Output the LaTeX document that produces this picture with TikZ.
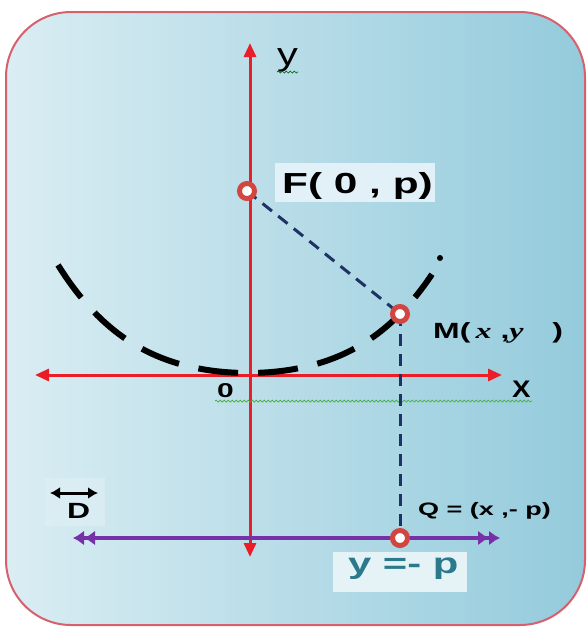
\documentclass[tikz,border=0pt]{standalone}
\usepackage{graphicx}
\usepackage{fontspec}
\setmainfont{Liberation Sans}
\newfontfamily\serifface{Liberation Serif}
\usetikzlibrary{arrows.meta,decorations.pathmorphing}
\newcommand{\stretchx}[2][1.45]{\scalebox{#1}[1]{#2}}
\definecolor{bgL}{RGB}{218,237,243}
\definecolor{bgR}{RGB}{148,203,220}
\definecolor{frame}{RGB}{214,96,110}
\definecolor{axisred}{RGB}{235,30,40}
\definecolor{ringred}{RGB}{210,70,65}
\definecolor{navy}{RGB}{30,50,100}
\definecolor{purp}{RGB}{118,48,168}
\definecolor{teal2}{RGB}{42,122,140}
\definecolor{wavy}{RGB}{70,170,70}
\definecolor{boxF}{RGB}{226,241,248}
\tikzset{
  axis/.style={draw=axisred, line width=3pt, -{Triangle[length=14pt,width=12pt]}},
  ring/.style={circle, draw=ringred, line width=5pt, fill=white, minimum size=15pt, inner sep=0pt},
  guide/.style={draw=navy, line width=3pt, dash pattern=on 12pt off 8pt},
  lbl/.style={font=\bfseries, text=black, inner sep=0pt},
  squig/.style={line width=0.7pt, decorate, decoration={snake, amplitude=1pt, segment length=4pt}},
  dtip/.tip={Latex[length=11pt,width=15pt]},
}
\begin{document}
\begin{tikzpicture}[x=1pt,y=-1pt]
\useasboundingbox (0,0) rectangle (587,633);
% panel
\shade[left color=bgL, right color=bgR, rounded corners=65pt, draw=frame, line width=2pt]
  (6,12) rectangle (585,625);
% label backgrounds
\fill[boxF] (275,163) rectangle (435,202);
\fill[white!30!bgL] (333,552) rectangle (467,592);
\fill[white!15!bgL, opacity=0.6] (45,478) rectangle (105,526);
% axes
\coordinate (O) at (250,375);
\coordinate (ytop) at (250,43);
\coordinate (ybot) at (250,557);
\coordinate (xl) at (35,375);
\coordinate (xr) at (502,375);
\draw[axis] (O) -- (ytop);
\draw[axis] (O) -- (ybot);
\draw[axis] (O) -- (xl);
\draw[axis] (O) -- (xr);
\node[anchor=base west, inner sep=0pt, font=\fontsize{32}{32}\selectfont] (ylab) at (277,65) {\stretchx[1.3]{y}};
\draw[black!60!green, squig] (277,72) -- (298,72);
\node[anchor=base west, inner sep=0pt, font=\bfseries\fontsize{24}{24}\selectfont] (xlab) at (512,397) {\stretchx[1.15]{X}};
\node[lbl, anchor=base west, font=\bfseries\fontsize{20}{20}\selectfont] (zero) at (217,397) {\stretchx[1.5]{0}};
\draw[wavy, squig] (215,401) -- (532,401);
% parabola
\draw[black, line width=6pt, dash pattern=on 40pt off 20pt, dash phase=0pt]
  plot[domain=58:432, samples=100, smooth] (\x, {373 - 17.75*((\x-248)/100)^2 - 3.37*((\x-248)/100)^4});
\fill[black] (440,258) circle (3pt);
% points
\coordinate (Fc) at (247,191);
\coordinate (Mc) at (400,314);
\coordinate (Qc) at (400,538);
% directrix
\coordinate (dl) at (73,538);
\coordinate (dr) at (500,538);
\draw[purp, line width=3.5pt, {dtip[]dtip[]}-{dtip[]dtip[]}] (dl) -- (dr);
% guides
\draw[guide] (Fc) -- (Mc);
\draw[guide] (Mc) -- (Qc);
\node[ring] (F) at (Fc) {};
\node[ring] (M) at (Mc) {};
\node[ring] (Q) at (Qc) {};
% labels
\node[lbl, anchor=base west, font=\bfseries\fontsize{29}{29}\selectfont] (Flab) at (282,193) {\stretchx[1.46]{F( 0 , p)}};
\node[lbl, anchor=base west, font=\bfseries\fontsize{22}{22}\selectfont] (Mlab) at (433,338) {\stretchx[1.45]{M(\,{\serifface\bfseries\itshape x} ,{\serifface\bfseries\itshape y}\hspace{0.9em})}};
\node[lbl, anchor=base west, font=\bfseries\fontsize{18}{18}\selectfont] (Qlab) at (418,515) {\stretchx[1.5]{Q = (x ,- p)}};
\node[anchor=base west, inner sep=0pt, font=\bfseries\fontsize{29}{29}\selectfont, text=teal2] (dirlab) at (348,573) {\stretchx[1.44]{y =- p}};
\node[lbl, anchor=base west, font=\bfseries\fontsize{22}{22}\selectfont] (Dlab) at (67,518) {\stretchx[1.45]{D}};
\coordinate (Dal) at (50,493);
\coordinate (Dar) at (98,493);
\draw[black, line width=3pt, {Latex[length=10pt,width=12pt]}-{Latex[length=10pt,width=12pt]}] (Dal) -- (Dar);
\end{tikzpicture}
\end{document}
